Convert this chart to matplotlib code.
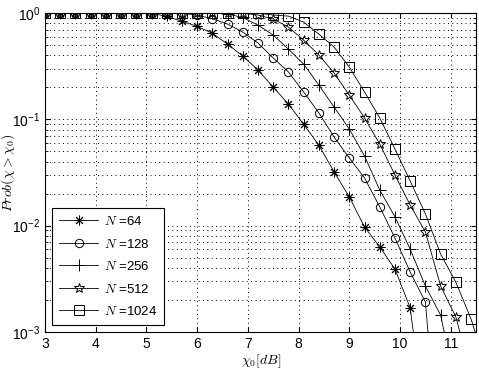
import numpy as np
import matplotlib
matplotlib.use("Agg")
import matplotlib.pyplot as plt

plt.rcParams['font.family'] = ['Liberation Sans', 'DejaVu Sans']
plt.rcParams['mathtext.fontset'] = 'cm'
plt.rcParams['font.size'] = 9

# chi_0 in dB, step 0.3
x64 = [3.0, 3.3, 3.6, 3.9, 4.2, 4.5, 4.8, 5.1, 5.4, 5.7, 6.0, 6.3, 6.6, 6.9, 7.2, 7.5,
       7.8, 8.1, 8.4, 8.7, 9.0, 9.3, 9.6, 9.9, 10.2, 10.5]
p64 = [1, 1, 1, 1, 1, 1, 1, 1, 0.93, 0.84, 0.75, 0.645, 0.51, 0.394, 0.291, 0.201,
       0.139, 0.090, 0.057, 0.032, 0.0186, 0.0097, 0.0063, 0.0039, 0.00168, 1.3e-4]

x128 = x64 + [10.8]
p128 = [1, 1, 1, 1, 1, 1, 1, 1, 1, 1, 0.957, 0.885, 0.789, 0.662, 0.522, 0.378,
        0.279, 0.181, 0.115, 0.068, 0.0433, 0.0281, 0.0150, 0.00764, 0.00366, 0.00191, 4e-5]

x256 = x128 + [11.1]
p256 = [1, 1, 1, 1, 1, 1, 1, 1, 1, 1, 1, 1, 0.98, 0.91, 0.77, 0.621,
        0.458, 0.331, 0.210, 0.1305, 0.081, 0.0452, 0.0216, 0.0121, 0.0060, 0.0027, 0.00144, 3e-4]

x512 = x256 + [11.4]
p512 = [1, 1, 1, 1, 1, 1, 1, 1, 1, 1, 1, 1, 1, 1, 0.96, 0.879,
        0.738, 0.557, 0.403, 0.273, 0.169, 0.103, 0.0586, 0.0299, 0.0156, 0.0087, 0.0027, 0.00138, 4e-4]

x1024 = x512 + [11.7]
p1024 = [1, 1, 1, 1, 1, 1, 1, 1, 1, 1, 1, 1, 1, 1, 1, 0.96,
         0.937, 0.823, 0.634, 0.479, 0.310, 0.181, 0.103, 0.0526, 0.0263, 0.0129, 0.0054, 0.00294, 0.00132, 4.7e-4]

series = [(x64, p64, (8, 2, 0), r'$N$ =64'),
          (x128, p128, 'o', r'$N$ =128'),
          (x256, p256, '+', r'$N$ =256'),
          (x512, p512, '*', r'$N$ =512'),
          (x1024, p1024, 's', r'$N$ =1024')]

fig = plt.figure(figsize=(4.79, 3.75), dpi=100)
ax = fig.add_axes([0.094, 0.115, 0.900, 0.850])

for xs, ps, mk, lab in series:
    ax.semilogy(xs, ps, color='k', lw=0.6, marker=mk,
                ms={'o': 6, 's': 6.5, '*': 7.5, '+': 8}.get(mk, 7) if isinstance(mk, str) else 7,
                mfc='none', mec='k', mew=0.7, label=lab)

ax.set_xlim(3, 11.5)
ax.set_ylim(1e-3, 1)
ax.set_xticks([3, 4, 5, 6, 7, 8, 9, 10, 11])
dots = (0, (1, 3.5))
ax.grid(True, which='major', ls=dots, color='k', lw=0.7)
ax.grid(True, which='minor', axis='y', ls=dots, color='k', lw=0.7)
ax.tick_params(which='both', direction='in', top=True, right=True, labelsize=10)
for s in ax.spines.values():
    s.set_linewidth(0.8)

ax.set_xlabel(r'$\chi_0[dB]$', fontsize=10, labelpad=1)
ax.set_ylabel(r'$Prob(\chi > \chi_0)$', fontsize=10)
ax.yaxis.set_label_coords(-0.064, 0.5)

leg = ax.legend(loc='lower left', fontsize=9.5, fancybox=False, edgecolor='k',
                framealpha=1, handlelength=3.0, labelspacing=0.72, handletextpad=0.4,
                borderpad=0.55, borderaxespad=0.5)
leg.get_frame().set_linewidth(0.8)

fig.savefig('out.png', dpi=100)
